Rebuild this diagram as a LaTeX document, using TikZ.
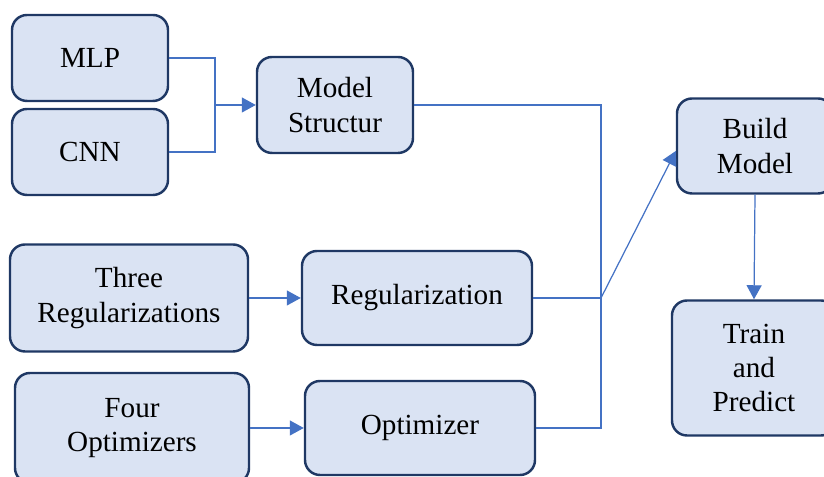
\documentclass[tikz,border=0pt]{standalone}
\usepackage{fontspec}
\setmainfont{Liberation Serif}
\usetikzlibrary{arrows.meta}
\definecolor{mfill}{HTML}{DAE3F3}
\definecolor{mline}{HTML}{1F3864}
\definecolor{mlink}{HTML}{4472C4}

\begin{document}
\begin{tikzpicture}[>={Triangle[length=0.28cm, width=0.3cm]},
    font=\fontsize{16.6}{19.4}\selectfont,
    block/.style={draw=mline, fill=mfill, line width=1.4pt, rounded corners=0.3cm,
                  align=center, inner sep=0pt},
    link/.style={draw=mlink, line width=0.7pt}]
  \useasboundingbox (0,0) rectangle (16.48,9.54);
  \clip (0,0) rectangle (16.48,9.54);

  % inputs on the left
  \node[block, minimum width=3.12cm, minimum height=1.72cm] (mlp) at (1.80,8.38) {MLP};
  \node[block, minimum width=3.12cm, minimum height=1.72cm] (cnn) at (1.80,6.50) {CNN};
  \node[block, minimum width=4.76cm, minimum height=2.14cm] (three) at (2.58,3.58) {Three\\Regularizations};
  \node[block, minimum width=4.68cm, minimum height=2.20cm] (four) at (2.64,0.98) {Four\\Optimizers};

  % middle column
  \node[block, minimum width=3.12cm, minimum height=1.92cm] (struct) at (6.70,7.44) {Model\\Structur};
  \node[block, minimum width=4.60cm, minimum height=1.88cm] (reg) at (8.34,3.58) {Regularization};
  \node[block, minimum width=4.60cm, minimum height=1.88cm] (opt) at (8.40,0.98) {Optimizer};

  % right column
  \node[block, minimum width=3.12cm, minimum height=1.90cm] (build) at (15.10,6.62) {Build\\Model};
  \node[block, minimum width=3.28cm, minimum height=2.70cm] (train) at (15.08,2.18) {Train\\and\\Predict};

  \coordinate (S) at (4.30,7.44);   % split of MLP / CNN
  \coordinate (J) at (12.02,3.58);  % junction of the three parts

  % MLP and CNN into the model structure
  \draw[link] (mlp.east) -| (S);
  \draw[link] (cnn.east) -| (S);
  \draw[link, ->] (S) -- (struct.west);

  % the lists into their parts
  \draw[link, ->] (three.east) -- (reg.west);
  \draw[link, ->] (four.east) -- (opt.west);

  % the parts meet at J, then build and train
  \draw[link] (struct.east) -| (J);
  \draw[link] (opt.east) -| (J);
  \draw[link] (reg.east) -- (J);
  \draw[link, ->] (J) -- ([yshift=-0.1cm]build.west);
  \draw[link, ->] (build.south) -- (train.north);
\end{tikzpicture}
\end{document}
